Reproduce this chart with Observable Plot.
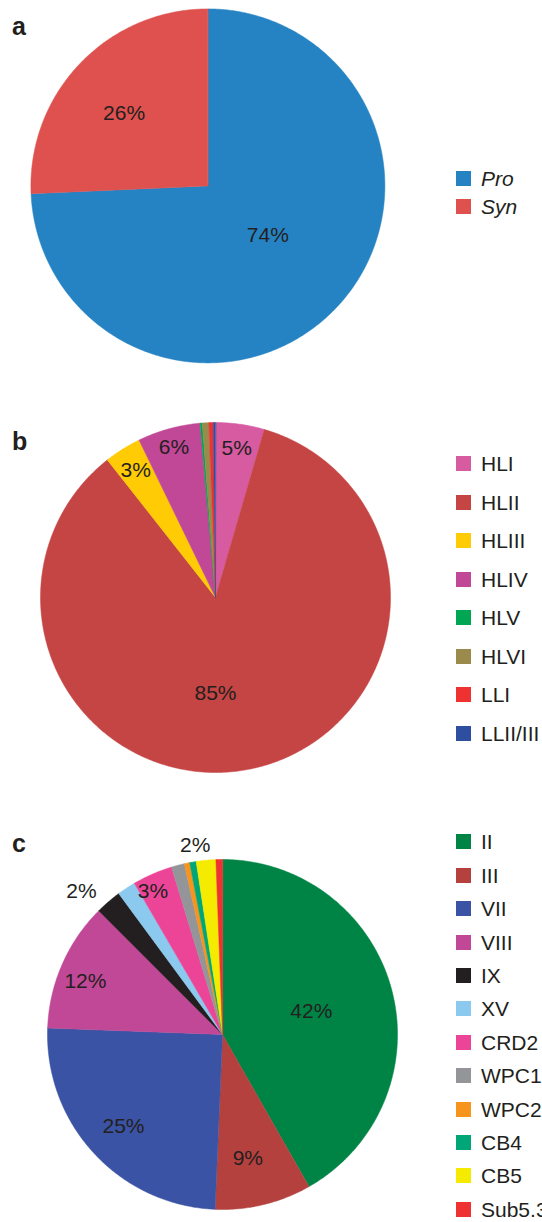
<!DOCTYPE html>
<html>
<head>
<meta charset="utf-8">
<script src="https://cdn.jsdelivr.net/npm/d3@7"></script>
<script src="https://cdn.jsdelivr.net/npm/@observablehq/plot@0.6"></script>
<style>
  body { margin: 0; background: #fff; }
  #page { position: relative; width: 542px; height: 1222px; overflow: hidden;
          font-family: "Liberation Sans", Arial, Helvetica, sans-serif; color: #231f20; }
  .letter { position: absolute; font-weight: bold; font-size: 25px; line-height: 1; }
  .sw { position: absolute; width: 15px; height: 15px; }
  .lt { position: absolute; font-size: 21px; line-height: 15px; white-space: nowrap; }
</style>
</head>
<body>
<div id="page"></div>
<script>
// ---------------- DATA ----------------
// Panel a
const aCategories = ["Pro", "Syn"];
const aValues = [74.3, 25.7];
const aLabels = ["74%", "26%"];
const aColors = ["#2683c3", "#de514e"];

// Panel b
const bCategories = ["HLI", "HLII", "HLIII", "HLIV", "HLV", "HLVI", "LLI", "LLII/III"];
const bValues = [4.5, 84.9, 3.4, 5.8, 0.2, 0.6, 0.4, 0.2];
const bLabels = ["5%", "85%", "3%", "6%", "", "", "", ""];
const bColors = ["#d65ba1", "#c44543", "#ffcb05", "#c04897", "#00a651", "#9a8a4c", "#ee3131", "#2e4fa0"];

// Panel c
const cCategories = ["II", "III", "VII", "VIII", "IX", "XV", "CRD2", "WPC1", "WPC2", "CB4", "CB5", "Sub5.3"];
const cValues = [41.75, 8.9, 24.9, 11.9, 2.4, 1.7, 3.7, 1.2, 0.5, 0.6, 1.8, 0.6];
const cLabels = ["42%", "9%", "25%", "12%", "2%", "", "3%", "", "", "", "2%", ""];
const cColors = ["#008445", "#b5413f", "#3a53a4", "#c04897", "#231f20", "#8bc9ee", "#ec4598", "#939598", "#f7941d", "#00a677", "#f5eb00", "#ee3131"];

// ---------------- LAYOUT ----------------
// label placement per slice: [radius factor, angular nudge in degrees]
const aPlace = [[0.44, -4], [0.625, -3]];
const bPlace = [[0.86, 0], [0.55, 11], [0.86, 0], [0.89, 0], null, null, null, null];
const cPlace = [[0.525, 0], [0.72, 2], [0.77, 0], [0.84, -2.4], [1.15, -3.8], null, [0.91, -2.3], null, null, null, [1.09, -2.8], null];

const panels = [
  {letter: "a", letterTop: 14, cats: aCategories, vals: aValues, labels: aLabels, colors: aColors, place: aPlace,
   cx: 207, cy: 185, r: 177, legTop: 171, legStep: 27.5, italic: true},
  {letter: "b", letterTop: 429, cats: bCategories, vals: bValues, labels: bLabels, colors: bColors, place: bPlace,
   cx: 215, cy: 597, r: 175, legTop: 456, legStep: 38.5, italic: false},
  {letter: "c", letterTop: 831, cats: cCategories, vals: cValues, labels: cLabels, colors: cColors, place: cPlace,
   cx: 222, cy: 1033.5, r: 175, legTop: 834.3, legStep: 33.4, italic: false}
];

const page = document.getElementById("page");
const EXT = 1.2; // domain extent relative to pie radius

function buildPie(p) {
  const total = d3.sum(p.vals);
  let acc = 0;
  const slices = p.vals.map((v, i) => {
    const t0 = acc / total * 2 * Math.PI;
    acc += v;
    const t1 = acc / total * 2 * Math.PI;
    const n = Math.max(2, Math.ceil((t1 - t0) / (Math.PI / 360)));
    const ring = [[0, 0]];
    for (let k = 0; k <= n; k++) {
      const t = t0 + (t1 - t0) * k / n;
      ring.push([Math.sin(t), -Math.cos(t)]);
    }
    ring.push([0, 0]);
    return {type: "Feature", properties: {name: p.cats[i], t0, t1},
            geometry: {type: "Polygon", coordinates: [ring]}};
  });
  const labelData = [];
  slices.forEach((s, i) => {
    if (!p.labels[i] || !p.place[i]) return;
    const [rf, nudge] = p.place[i];
    const mid = (s.properties.t0 + s.properties.t1) / 2 + nudge * Math.PI / 180;
    labelData.push({label: p.labels[i], x: Math.sin(mid) * rf, y: -Math.cos(mid) * rf});
  });
  const size = 2 * EXT * p.r;
  const svg = Plot.plot({
    width: size, height: size, margin: 0,
    projection: {type: "identity", domain: {type: "MultiPoint", coordinates: [[-EXT, -EXT], [EXT, EXT]]}},
    color: {domain: p.cats, range: p.colors},
    style: {background: "transparent", overflow: "visible", fontFamily: '"Liberation Sans", Arial, Helvetica, sans-serif'},
    marks: [
      Plot.geo(slices, {fill: d => d.properties.name, stroke: d => d.properties.name, strokeWidth: 0.5}),
      Plot.text(labelData, {x: "x", y: "y", text: "label", fontSize: 21, fill: "#231f20"})
    ]
  });
  svg.style.position = "absolute";
  svg.style.left = (p.cx - EXT * p.r) + "px";
  svg.style.top = (p.cy - EXT * p.r) + "px";
  svg.style.maxWidth = "none";
  page.appendChild(svg);

  const L = document.createElement("div");
  L.className = "letter";
  L.textContent = p.letter;
  L.style.left = "12px";
  L.style.top = p.letterTop + "px";
  page.appendChild(L);

  p.cats.forEach((c, i) => {
    const y = p.legTop + i * p.legStep;
    const sw = document.createElement("div");
    sw.className = "sw";
    sw.style.left = "456px";
    sw.style.top = y + "px";
    sw.style.background = p.colors[i];
    page.appendChild(sw);
    const t = document.createElement("div");
    t.className = "lt";
    t.style.left = "481px";
    t.style.top = y + "px";
    if (p.italic) t.style.fontStyle = "italic";
    t.textContent = c;
    page.appendChild(t);
  });
}

panels.forEach(buildPie);
</script>
</body>
</html>
